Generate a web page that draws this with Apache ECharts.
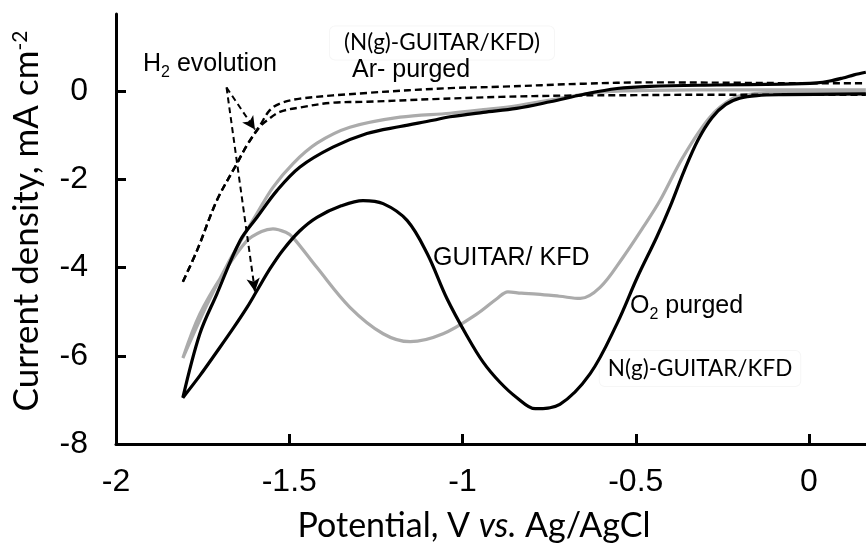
<!DOCTYPE html>
<html>
<head>
<meta charset="utf-8">
<script src="https://cdn.jsdelivr.net/npm/echarts@6/dist/echarts.min.js"></script>
<style>
html,body{margin:0;padding:0;background:#fff;}
#chart{width:866px;height:549px;}
</style>
</head>
<body>
<div id="chart"></div>
<script>
// ---- data (potential V vs Ag/AgCl, current density mA cm^-2) ----
// N(g)-GUITAR/KFD, O2 purged (black): upper branch right->left, then lower branch left->right
var ngO2X = [0.164, 0.13, 0.098, 0.06, 0.023, -0.075, -0.266, -0.459, -0.554, -0.652, -0.747, -0.844, -0.94, -1.036, -1.085, -1.18, -1.276, -1.374, -1.469, -1.535, -1.593, -1.642, -1.709, -1.758, -1.807,
             -1.758, -1.71, -1.662, -1.62, -1.593, -1.555, -1.518, -1.47, -1.42, -1.35, -1.287, -1.229, -1.16, -1.102, -1.045, -0.987, -0.94, -0.892, -0.843, -0.79, -0.719, -0.632, -0.554, -0.496, -0.439, -0.40, -0.36, -0.32, -0.28, -0.24, -0.2, -0.15, -0.075, 0.164];
var ngO2Y = [0.43, 0.37, 0.3, 0.23, 0.19, 0.16, 0.14, 0.11, 0.06, -0.075, -0.24, -0.39, -0.48, -0.58, -0.66, -0.8, -0.96, -1.27, -1.72, -2.25, -2.86, -3.39, -4.6, -5.5, -6.95,
             -6.45, -5.92, -5.38, -4.88, -4.52, -4.02, -3.6, -3.17, -2.86, -2.6, -2.48, -2.55, -2.93, -3.68, -4.7, -5.55, -6.15, -6.6, -6.95, -7.2, -7.1, -6.41, -5.27, -4.23, -3.3, -2.6, -1.8, -1.1, -0.6, -0.3, -0.16, -0.1, -0.08, -0.06];

// GUITAR/KFD, O2 purged (gray)
var guO2X = [0.164, 0.0, -0.2, -0.459, -0.554, -0.652, -0.747, -0.844, -0.94, -1.036, -1.18, -1.325, -1.42, -1.489, -1.547, -1.593, -1.633, -1.68, -1.738, -1.807,
             -1.758, -1.691, -1.622, -1.58, -1.547, -1.51, -1.489, -1.42, -1.325, -1.229, -1.151, -1.056, -0.958, -0.9, -0.869, -0.83, -0.785, -0.72, -0.66, -0.603, -0.537, -0.479, -0.43, -0.364, -0.286, -0.219, -0.17, -0.1, 0.164];
var guO2Y = [0.03, 0.03, 0.03, 0.02, 0.0, -0.07, -0.2, -0.33, -0.42, -0.5, -0.59, -0.82, -1.18, -1.64, -2.18, -2.77, -3.3, -3.95, -4.85, -6.05,
             -5.05, -4.14, -3.39, -3.18, -3.12, -3.2, -3.32, -4.0, -4.9, -5.5, -5.68, -5.5, -5.05, -4.7, -4.55, -4.58, -4.6, -4.65, -4.7, -4.45, -3.77, -3.09, -2.48, -1.5, -0.59, -0.16, -0.07, -0.04, -0.03];

// N(g)-GUITAR/KFD, Ar purged (dashed): upper and lower branches, each from the cathodic end
var ngArUpX = [-1.807, -1.766, -1.709, -1.651, -1.62, -1.584, -1.556, -1.527, -1.469, -1.276, -1.036, -0.892, -0.65, -0.459, -0.2, 0.0, 0.164];
var ngArUpY = [-4.32, -3.61, -2.48, -1.64, -1.2, -0.77, -0.43, -0.28, -0.17, -0.04, 0.07, 0.1, 0.17, 0.2, 0.19, 0.18, 0.18];
var ngArLoX = [-1.807, -1.766, -1.709, -1.651, -1.62, -1.584, -1.564, -1.527, -1.469, -1.374, -1.276, -1.085, -0.892, -0.7, -0.5, -0.3, 0.0, 0.164];
var ngArLoY = [-4.32, -3.61, -2.48, -1.64, -1.2, -0.8, -0.66, -0.47, -0.37, -0.26, -0.24, -0.18, -0.13, -0.1, -0.09, -0.08, -0.08, -0.08];

// H2 evolution arrows: [startX, startY, endX, endY]
var arrowA = [-1.681, 0.084, -1.599, -0.87];
var arrowB = [-1.681, 0.084, -1.599, -4.54];

// axis ticks
var xTicks = [-2, -1.5, -1, -0.5, 0];
var yTicks = [-8, -6, -4, -2, 0];

function pairs(xs, ys){ var out=[]; for(var i=0;i<xs.length;i++){ out.push([xs[i], ys[i]]); } return out; }

var chart = echarts.init(document.getElementById('chart'), null, {renderer:'canvas'});
var tickFont = 'Liberation Sans';
var titleFont = 'Lato';
var dashStyle = {color: '#000', width: 2.4, type: [7, 4]};

var option = {
  animation: false,
  backgroundColor: '#ffffff',
  grid: {left: 116, right: 0, top: 14, bottom: 105, containLabel: false},
  xAxis: {
    type: 'value', min: -2, max: 0.1645,
    axisLine: {show: true, onZero: false, lineStyle: {color: '#000', width: 3}},
    axisTick: {show: true, inside: true, length: 10, lineStyle: {color: '#000', width: 3}, customValues: xTicks},
    axisLabel: {show: true, margin: 22, fontFamily: tickFont, fontSize: 32, color: '#000', customValues: xTicks,
      formatter: function(v){ return String(v); }},
    splitLine: {show: false}
  },
  yAxis: {
    type: 'value', min: -8, max: 1.75,
    axisLine: {show: true, onZero: false, lineStyle: {color: '#000', width: 3}},
    axisTick: {show: true, inside: true, length: 10, lineStyle: {color: '#000', width: 3}, customValues: yTicks},
    axisLabel: {show: true, margin: 28, fontFamily: tickFont, fontSize: 32, color: '#000', customValues: yTicks,
      formatter: function(v){ return String(v); }},
    splitLine: {show: false}
  },
  series: [
    {
      name: 'GUITAR/KFD O2', type: 'line', data: pairs(guO2X, guO2Y), showSymbol: false, smooth: 0.35,
      lineStyle: {color: '#ababab', width: 3.2}, z: 2
    },
    {
      name: 'N(g)-GUITAR/KFD O2', type: 'line', data: pairs(ngO2X, ngO2Y), showSymbol: false, smooth: 0.35,
      lineStyle: {color: '#000', width: 3.2}, z: 3
    },
    {
      name: 'N(g)-GUITAR/KFD Ar (upper)', type: 'line', data: pairs(ngArUpX, ngArUpY), showSymbol: false, smooth: 0.35,
      lineStyle: dashStyle, z: 4
    },
    {
      name: 'N(g)-GUITAR/KFD Ar (lower)', type: 'line', data: pairs(ngArLoX, ngArLoY), showSymbol: false, smooth: 0.35,
      lineStyle: dashStyle, z: 4,
      markLine: {
        silent: true, symbol: ['none', 'arrow'], symbolSize: [10, 13], animation: false,
        label: {show: false},
        lineStyle: {color: '#000', width: 2, type: [6, 4]},
        data: [
          [{coord: [arrowA[0], arrowA[1]]}, {coord: [arrowA[2], arrowA[3]]}],
          [{coord: [arrowB[0], arrowB[1]]}, {coord: [arrowB[2], arrowB[3]]}]
        ]
      }
    }
  ],
  graphic: [
    // axis titles
    {type: 'text', x: 474, y: 526, style: {
      text: '{a|Potential, V }{i|vs.}{a| Ag/AgCl}', align: 'center', verticalAlign: 'middle',
      rich: {a: {fontFamily: titleFont, fontSize: 34, fill: '#000'}, i: {fontFamily: titleFont, fontSize: 34, fontStyle: 'italic', fill: '#000'}}
    }},
    {type: 'text', x: 27, y: 221, rotation: Math.PI / 2, style: {
      text: '{a|Current density, mA cm}{s|-2}', align: 'center', verticalAlign: 'middle',
      rich: {a: {fontFamily: titleFont, fontSize: 35, fill: '#000', verticalAlign: 'bottom'}, s: {fontFamily: titleFont, fontSize: 21, fill: '#000', verticalAlign: 'top'}}
    }},
    // annotations
    {type: 'text', x: 143, y: 64, style: {
      text: '{a|H}{s|2}{a| evolution}', align: 'left', verticalAlign: 'middle',
      rich: {a: {fontFamily: tickFont, fontSize: 25, fill: '#000', verticalAlign: 'top'}, s: {fontFamily: tickFont, fontSize: 16, fill: '#000', verticalAlign: 'bottom', padding: [0, 0, -4, 0]}}
    }},
    {type: 'text', x: 442, y: 43, style: {
      text: '(N(g)-GUITAR/KFD)', align: 'center', verticalAlign: 'middle',
      fontFamily: titleFont, fontSize: 22.5, fill: '#000',
      backgroundColor: '#fff', borderColor: '#f6f6f6', borderWidth: 1, borderRadius: 5, padding: [4, 14, 6, 14]
    }},
    {type: 'text', x: 352, y: 70.5, style: {
      text: 'Ar- purged', align: 'left', verticalAlign: 'middle',
      fontFamily: tickFont, fontSize: 25, fill: '#000'
    }},
    {type: 'text', x: 433, y: 258.5, style: {
      text: 'GUITAR/ KFD', align: 'left', verticalAlign: 'middle',
      fontFamily: tickFont, fontSize: 25, fill: '#000'
    }},
    {type: 'text', x: 630, y: 306, style: {
      text: '{a|O}{s|2}{a| purged}', align: 'left', verticalAlign: 'middle',
      rich: {a: {fontFamily: tickFont, fontSize: 25, fill: '#000', verticalAlign: 'top'}, s: {fontFamily: tickFont, fontSize: 16, fill: '#000', verticalAlign: 'bottom', padding: [0, 0, -4, 0]}}
    }},
    {type: 'text', x: 700, y: 368.5, style: {
      text: 'N(g)-GUITAR/KFD', align: 'center', verticalAlign: 'middle',
      fontFamily: titleFont, fontSize: 22.5, fill: '#000',
      backgroundColor: '#fff', borderColor: '#f6f6f6', borderWidth: 1, borderRadius: 5, padding: [6, 8, 6, 8]
    }}
  ]
};
chart.setOption(option);
</script>
</body>
</html>
